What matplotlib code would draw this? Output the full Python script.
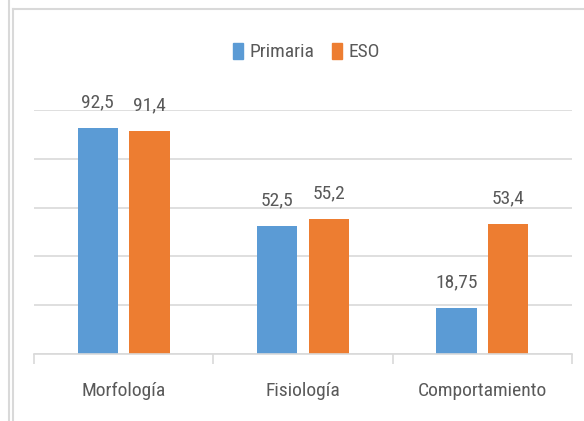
import numpy as np
import matplotlib.pyplot as plt
from matplotlib.lines import Line2D
from matplotlib.patches import Patch

# Datos
categorias = ['Morfología', 'Fisiología', 'Comportamiento']
primaria = [92.5, 52.5, 18.75]
eso = [91.4, 55.2, 53.4]
etiq_primaria = ['92,5', '52,5', '18,75']
etiq_eso = ['91,4', '55,2', '53,4']

azul = '#5B9BD5'
naranja = '#ED7D31'
gris_txt = '#595959'
gris_lin = '#D9D9D9'

plt.rcParams['font.family'] = ['Liberation Sans Narrow', 'Roboto Condensed', 'DejaVu Sans']
plt.rcParams['font.stretch'] = 'condensed'

fig = plt.figure(figsize=(5.84, 4.21), dpi=100)
ax = fig.add_axes([34/584, 1-354/421, (572-34)/584, (354-110)/421])

x = np.arange(len(categorias))
w = 0.225
off = 0.144
b1 = ax.bar(x - off, primaria, w, color=azul)
b2 = ax.bar(x + off, eso, w, color=naranja)

for barras, etiq in [(b1, etiq_primaria), (b2, etiq_eso)]:
    for b, t in zip(barras, etiq):
        ax.annotate(t, (b.get_x() + b.get_width()/2, b.get_height()),
                    xytext=(0, 12), textcoords='offset points',
                    ha='center', va='bottom', fontsize=14, color=gris_txt,
                    annotation_clip=False)

ax.set_xlim(-0.5, 2.5)
ax.set_ylim(0, 100)
ax.set_yticks([0, 20, 40, 60, 80, 100])
ax.yaxis.grid(True, color=gris_lin, linewidth=1.2)
ax.set_axisbelow(True)
ax.tick_params(axis='y', left=False, labelleft=False)
ax.set_xticks([-0.5, 0.5, 1.5, 2.5])
ax.set_xticklabels([])
ax.tick_params(axis='x', length=7, color=gris_lin, width=1.2)
ax.set_xticks(x, minor=True)
ax.set_xticklabels(categorias, minor=True, fontsize=14, color=gris_txt)
ax.tick_params(axis='x', which='minor', length=0, pad=20)
for s in ['top', 'left', 'right']:
    ax.spines[s].set_visible(False)
ax.spines['bottom'].set_color(gris_lin)
ax.spines['bottom'].set_linewidth(1.2)

handles = [Patch(color=azul, label='Primaria'), Patch(color=naranja, label='ESO')]
fig.legend(handles=handles, loc='center', bbox_to_anchor=(306/584, 1-52/421),
           ncol=2, frameon=False, fontsize=14, labelcolor=gris_txt,
           handlelength=0.55, handleheight=0.9, handletextpad=0.3, columnspacing=0.9)

# marco
fig.add_artist(Line2D([9/584, 9/584], [0, 1], color=gris_lin, linewidth=1.5))
fig.add_artist(Line2D([13/584, 13/584], [0, 1-9/421], color=gris_lin, linewidth=1.5))
fig.add_artist(Line2D([13/584, 1], [1-9/421, 1-9/421], color=gris_lin, linewidth=1.5))

fig.savefig('out.png', dpi=100)
